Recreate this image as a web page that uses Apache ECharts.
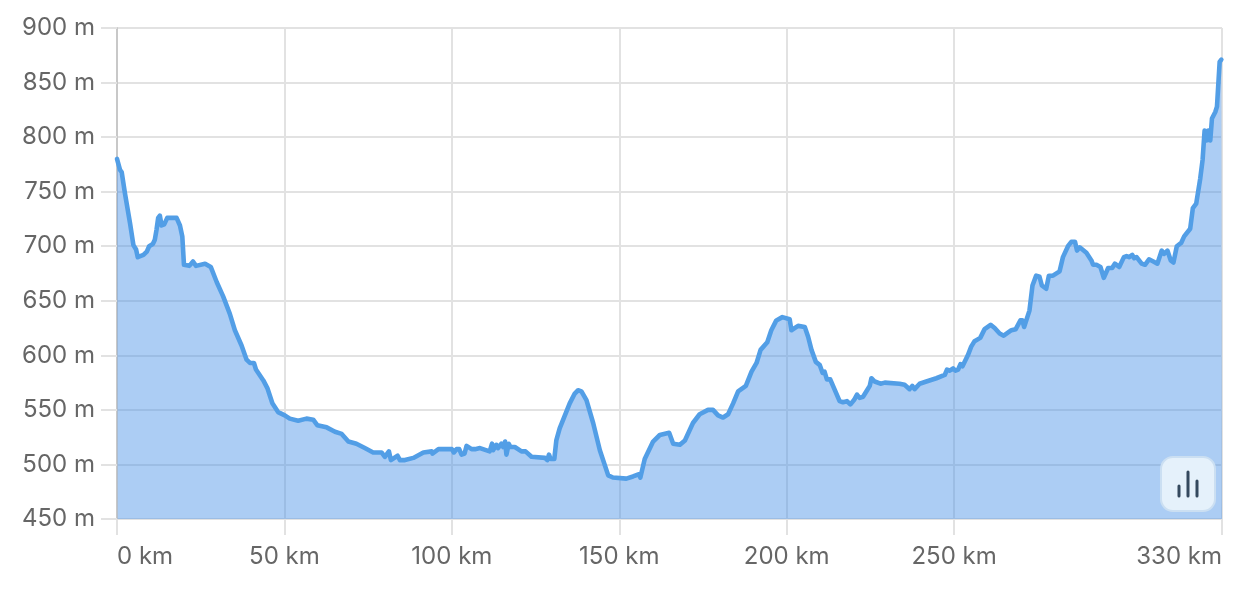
<!DOCTYPE html>
<html>
<head>
<meta charset="utf-8">
<style>html,body{margin:0;padding:0;background:#fff}#c{width:1242px;height:592px}</style>
<script src="https://cdn.jsdelivr.net/npm/echarts@6/dist/echarts.min.js"></script>
</head>
<body>
<div id="c"></div>
<script>
const distanceKm = [0,0.2,0.9,1.4,2.4,3.9,4.9,5.7,6.2,7.9,8.9,9.6,10.7,11.3,11.8,12.3,12.8,13.3,14.1,15,17.8,18.8,19.5,20,21.6,22.7,23.6,26.3,28,29.8,31.7,33.7,35.2,37.2,38.7,39.7,40.9,41.5,43.7,44.9,46.4,48.1,50.1,51.6,54.1,56.6,58.6,59.8,62.6,65.1,67.1,69.1,71.5,74,76.5,79,80,81.2,81.8,83.8,84.5,86,88.5,91.5,94,94.2,96,100,100.6,101.4,102.2,102.9,103.8,104.4,105.9,106.9,108.4,111.3,112,112.3,113.3,113.8,114.8,115.3,115.9,116.3,117,117.5,118.8,120.8,122,123.8,127.8,128.5,129,129.5,130.6,131.2,132.2,135.2,136.7,137.7,138.7,140.2,142.2,144.2,146.7,148.1,152.1,154.1,155.9,156.3,157.6,160.1,162.1,164.9,166.1,168.1,169.6,172,174,176.5,178,179.5,181,182.5,184,185.5,187.8,189.5,191,192.2,194.2,195.4,196.9,198.7,200.9,201.4,203.4,205.4,206.4,207.4,208.7,209.9,210.7,211.3,212,213,215.8,216.8,218,219,220.1,221,221.8,222.8,224,224.8,225.3,226.3,228,229.3,233.7,235.2,236.7,237.5,238.2,239.7,241.7,244.7,247.2,247.9,248.7,249.7,250.4,251.2,251.9,252.5,254.1,255.1,256.1,257.8,259.1,260.9,262.1,263.6,264.8,267.1,268.4,269.8,270.4,270.9,272.5,273.4,274.5,275.5,276.2,277.5,278.3,279.5,281.5,282.5,284,285,286.1,286.7,287.5,289.5,291,291.5,292.5,293.7,294.7,296,297.2,298,299.3,300.7,301.5,302.3,303.2,303.8,304.5,306,307,308.2,309.5,310.7,312,312.7,313.7,314.7,315.5,316.5,317.8,318.7,320.5,321.3,322.3,323.5,324.2,324.8,325.5,325.9,326.5,327,328,328.5,329.3,329.8,330];
const elevationM = [780,781,770,768,748,721,701,697,690,692,695,700,702,706,715,726,728,719,720,726,726,719,709,683,682,686,682,684,681,667,654,638,623,609,596,593,593,587,577,570,556,548,545,542,540,542,541,536,534,530,528,521,519,515,511,511,507,512,504,508,504,504,506,511,512,510,514,514,511,514,514,509,510,517,514,514,515,512,519,513,518,515,519,516,521,509,519,516,516,512,512,507,506,504,509,505,505,522,533,556,565,568,567,559,538,513,490,488,487,489,491,488,505,521,527,529,519,518,522,538,546,550,550,545,543,546,556,567,572,585,593,605,612,623,632,635,633,623,627,626,617,605,594,591,584,585,578,578,558,557,558,555,559,564,561,562,568,572,579,576,574,575,574,573,569,572,569,574,576,579,582,587,586,588,586,587,592,590,600,608,613,616,624,628,625,620,618,623,624,632,632,626,641,664,673,672,664,661,673,673,677,690,700,704,704,696,699,694,687,683,683,681,671,680,680,684,681,690,691,690,692,689,690,684,683,688,686,684,696,693,696,687,685,700,703,709,716,735,739,762,779,806,797,806,797,817,823,828,869,871,871];
const yTicks = [450,500,550,600,650,700,750,800,850,900];
const xTicks = [0,50,100,150,200,250,330];

const chart = echarts.init(document.getElementById('c'), null, {renderer:'canvas', width:1242, height:592});
const fontFamily = 'Inter, "Liberation Sans", sans-serif';
const gridColor = '#e2e2e2';
chart.setOption({
  animation:false,
  backgroundColor:'#ffffff',
  grid:{left:117,right:20,top:28,bottom:73,containLabel:false},
  xAxis:{
    type:'value',min:0,max:330,
    axisLine:{show:false},
    axisTick:{show:true,length:16,inside:false,customValues:xTicks,lineStyle:{color:gridColor,width:2}},
    splitLine:{show:true,lineStyle:{color:gridColor,width:2}},
    axisLabel:{customValues:xTicks,margin:26,color:'#666666',fontSize:24,fontFamily,alignMinLabel:'left',alignMaxLabel:'right',formatter:v=>v+' km'}
  },
  yAxis:{
    type:'value',min:450,max:900,interval:50,
    axisLine:{show:true,lineStyle:{color:'#c8c8c8',width:2}},
    axisTick:{show:true,length:16,lineStyle:{color:gridColor,width:2}},
    splitLine:{show:true,lineStyle:{color:gridColor,width:2}},
    axisLabel:{margin:22,color:'#666666',fontSize:24,fontFamily,formatter:v=>v+' m'}
  },
  series:[{
    type:'line',
    data:distanceKm.map((d,i)=>[d,elevationM[i]]),
    symbol:'none',showSymbol:false,smooth:false,
    lineStyle:{color:'#529ee6',width:4.6,join:'round',cap:'round'},
    areaStyle:{color:'#4a92e6',opacity:0.46},
    z:3
  }],
  graphic:[
    {type:'rect',z:10,shape:{x:1161,y:457,width:54,height:54,r:12},style:{fill:'#e5f1fb',stroke:'#cbdff2',lineWidth:2}},
    {type:'line',z:11,shape:{x1:1179,y1:486,x2:1179,y2:496},style:{stroke:'#34495e',lineWidth:3,lineCap:'round'}},
    {type:'line',z:11,shape:{x1:1188,y1:472,x2:1188,y2:496},style:{stroke:'#34495e',lineWidth:3,lineCap:'round'}},
    {type:'line',z:11,shape:{x1:1197,y1:481,x2:1197,y2:496},style:{stroke:'#34495e',lineWidth:3,lineCap:'round'}}
  ]
});
</script>
</body>
</html>
